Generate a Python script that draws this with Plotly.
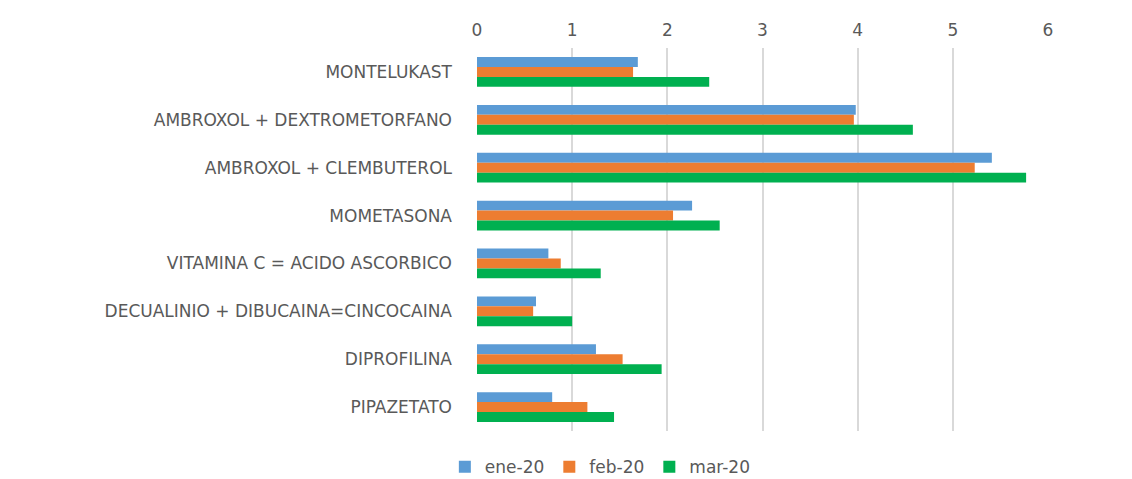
import plotly.graph_objects as go

categorias = [
    "MONTELUKAST",
    "AMBROXOL + DEXTROMETORFANO",
    "AMBROXOL + CLEMBUTEROL",
    "MOMETASONA",
    "VITAMINA C = ACIDO ASCORBICO",
    "DECUALINIO + DIBUCAINA=CINCOCAINA",
    "DIPROFILINA",
    "PIPAZETATO",
]
ene_20 = [1.69, 3.98, 5.41, 2.26, 0.75, 0.62, 1.25, 0.79]
feb_20 = [1.64, 3.96, 5.23, 2.06, 0.88, 0.59, 1.53, 1.16]
mar_20 = [2.44, 4.58, 5.77, 2.55, 1.30, 1.00, 1.94, 1.44]

series = [
    ("ene-20", ene_20, "#5B9BD5"),
    ("feb-20", feb_20, "#ED7D31"),
    ("mar-20", mar_20, "#00B050"),
]

fig = go.Figure()
for nombre, valores, color in series:
    fig.add_trace(go.Bar(
        y=categorias, x=valores, name=nombre, orientation='h',
        marker=dict(color=color, line=dict(width=0)),
    ))

# la pagina tiene 8px de margen en el body: se descuentan aqui
fig.update_layout(
    width=1124, height=471,
    margin=dict(l=469, r=84, t=35, b=48),
    barmode='group', bargap=0.38, bargroupgap=0,
    paper_bgcolor='white', plot_bgcolor='white',
    font=dict(family='DejaVu Sans, sans-serif', size=17, color='#595959'),
    xaxis=dict(
        side='top', range=[0, 6], dtick=1, showgrid=True,
        gridcolor='#d9d9d9', gridwidth=2, zeroline=False,
        showline=False, fixedrange=True, ticklabelstandoff=8,
    ),
    yaxis=dict(
        autorange='reversed', showgrid=False, showline=False,
        ticklabelstandoff=24, fixedrange=True,
    ),
    legend=dict(
        orientation='h', xref='container', yref='container',
        x=0.527, xanchor='center', y=0.025, yanchor='middle',
        font=dict(size=17), traceorder='normal',
    ),
)

fig.write_html("out.html")
